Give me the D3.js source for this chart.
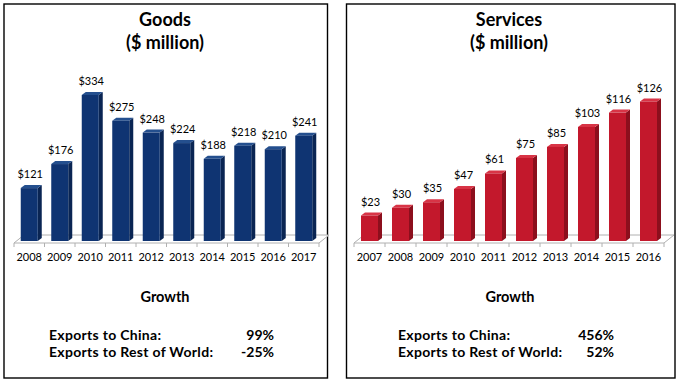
<!DOCTYPE html>
<html>
<head>
<meta charset="utf-8">
<script src="https://cdn.jsdelivr.net/npm/d3@7"></script>
<style>
  html, body { margin: 0; padding: 0; background: #ffffff; }
  svg { display: block; font-family: Lato, "Open Sans", sans-serif; }
</style>
</head>
<body>
<svg id="chart" width="680" height="383"></svg>
<script>
// ---- Data ----
const goodsYears = ["2008", "2009", "2010", "2011", "2012", "2013", "2014", "2015", "2016", "2017"];
const goodsValues = [121, 176, 334, 275, 248, 224, 188, 218, 210, 241];
const servicesYears = ["2007", "2008", "2009", "2010", "2011", "2012", "2013", "2014", "2015", "2016"];
const servicesValues = [23, 30, 35, 47, 61, 75, 85, 103, 116, 126];
const growthLabels = ["Exports to China:", "Exports to Rest of World:"];
const goodsGrowth = ["99%", "-25%"];
const servicesGrowth = ["456%", "52%"];

const svg = d3.select("#chart");

function drawPanel(cfg) {
  const g = svg.append("g");
  // panel border
  g.append("rect")
    .attr("x", cfg.box[0]).attr("y", cfg.box[1])
    .attr("width", cfg.box[2]).attr("height", cfg.box[3])
    .attr("fill", "#fff").attr("stroke", "#000").attr("stroke-width", 1.4);

  // titles
  g.append("text").attr("x", cfg.titleX).attr("y", 26)
    .attr("text-anchor", "middle").attr("font-size", 18).attr("font-weight", "bold")
    .attr("fill", "#000").text(cfg.title);
  g.append("text").attr("x", cfg.titleX).attr("y", 49)
    .attr("text-anchor", "middle").attr("font-size", 18).attr("font-weight", "bold")
    .attr("fill", "#000").text("($ million)");

  const x = d3.scaleBand().domain(cfg.years).range(cfg.xRange).paddingInner(0).paddingOuter(0);
  const y = d3.scaleLinear().domain([0, cfg.yMax]).range([241, 241 - cfg.yPix]);

  const floorFront = 243, fdx = 10, fdy = -8;
  const x0 = cfg.xRange[0], x1 = cfg.xRange[1];
  // floor
  g.append("path")
    .attr("d", `M${x0},${floorFront} L${x1},${floorFront} L${x1 + fdx},${floorFront + fdy} L${x0 + fdx},${floorFront + fdy} Z`)
    .attr("fill", "#ffffff").attr("stroke", "#b0b0b0").attr("stroke-width", 1);
  // ticks at band boundaries
  const bounds = cfg.years.map(d => x(d)).concat([x1]);
  g.selectAll(".tick").data(bounds).enter().append("line")
    .attr("x1", d => d).attr("x2", d => d)
    .attr("y1", floorFront).attr("y2", floorFront + 4)
    .attr("stroke", "#b0b0b0").attr("stroke-width", 1);

  const bw = 17, dx = 4, dy = -3, base = 241;
  const data = cfg.years.map((yr, i) => ({ yr, v: cfg.values[i] }));
  const bars = g.selectAll(".bar").data(data).enter().append("g");
  bars.each(function (d) {
    const gg = d3.select(this);
    const cx = x(d.yr) + x.bandwidth() / 2;
    const bx = cx - bw / 2;
    const top = y(d.v);
    // side face
    gg.append("path")
      .attr("d", `M${bx + bw},${top} L${bx + bw + dx},${top + dy} L${bx + bw + dx},${base + dy} L${bx + bw},${base} Z`)
      .attr("fill", cfg.side);
    // top face
    gg.append("path")
      .attr("d", `M${bx},${top} L${bx + dx},${top + dy} L${bx + bw + dx},${top + dy} L${bx + bw},${top} Z`)
      .attr("fill", cfg.topc);
    // front face
    gg.append("rect")
      .attr("x", bx).attr("y", top).attr("width", bw).attr("height", base - top)
      .attr("fill", cfg.front);
    // value label
    gg.append("text")
      .attr("x", cx + 1).attr("y", top - 10)
      .attr("text-anchor", "middle").attr("font-size", 11).attr("fill", "#000")
      .text("$" + d.v);
  });

  // year labels
  g.selectAll(".yl").data(cfg.years).enter().append("text")
    .attr("x", d => x(d) + x.bandwidth() / 2)
    .attr("y", 261)
    .attr("text-anchor", "middle").attr("font-size", 11).attr("fill", "#000")
    .text(d => d);

  // growth
  g.append("text").attr("x", cfg.growthX).attr("y", 302)
    .attr("text-anchor", "middle").attr("font-size", 14.5).attr("font-weight", "bold")
    .attr("fill", "#000").text("Growth");
  growthLabels.forEach((lab, i) => {
    g.append("text").attr("x", cfg.labX).attr("y", 340 + i * 17)
      .attr("font-size", 14).attr("font-weight", "bold").attr("letter-spacing", 0.3)
      .attr("fill", "#000").text(lab);
    g.append("text").attr("x", cfg.valX).attr("y", 340 + i * 17)
      .attr("text-anchor", "end")
      .attr("font-size", 14).attr("font-weight", "bold").attr("fill", "#000").text(cfg.growth[i]);
  });
}

drawPanel({
  box: [4, 4, 323.5, 374],
  title: "Goods", titleX: 165,
  years: goodsYears, values: goodsValues,
  xRange: [14, 319], yMax: 350, yPix: 153,
  front: "#0f3472", side: "#0a2553", topc: "#244f8e",
  growthX: 165, labX: 49, valX: 274, growth: goodsGrowth
});

drawPanel({
  box: [346.5, 4, 328.5, 374],
  title: "Services", titleX: 509,
  years: servicesYears, values: servicesValues,
  xRange: [354, 664], yMax: 140, yPix: 155,
  front: "#c3182c", side: "#8c0f1d", topc: "#d83446",
  growthX: 510, labX: 398, valX: 614, growth: servicesGrowth
});
</script>
</body>
</html>
